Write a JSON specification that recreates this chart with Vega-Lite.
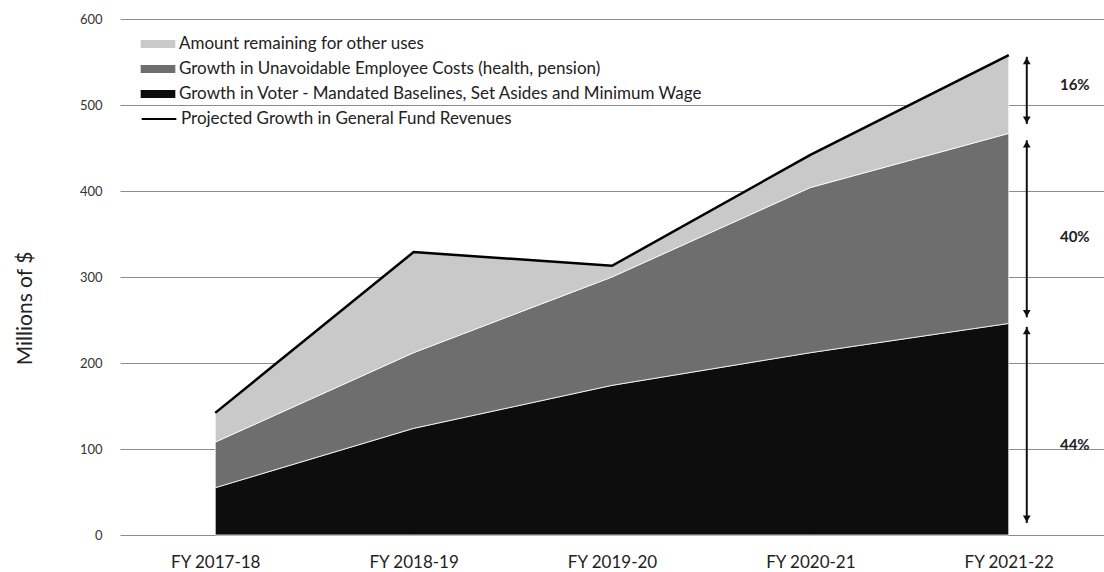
{
  "$schema": "https://vega.github.io/schema/vega-lite/v6.json",
  "autosize": "none",
  "width": 984,
  "height": 516,
  "padding": {"left": 120, "top": 19, "right": 0, "bottom": 37},
  "background": "white",
  "config": {
    "font": "Lato",
    "view": {"stroke": null}
  },
  "datasets": {
    "areas": [
      {"year": "FY 2017-18", "series": "Growth in Voter - Mandated Baselines, Set Asides and Minimum Wage", "ord": 1, "value": 55},
      {"year": "FY 2018-19", "series": "Growth in Voter - Mandated Baselines, Set Asides and Minimum Wage", "ord": 1, "value": 124},
      {"year": "FY 2019-20", "series": "Growth in Voter - Mandated Baselines, Set Asides and Minimum Wage", "ord": 1, "value": 174},
      {"year": "FY 2020-21", "series": "Growth in Voter - Mandated Baselines, Set Asides and Minimum Wage", "ord": 1, "value": 212},
      {"year": "FY 2021-22", "series": "Growth in Voter - Mandated Baselines, Set Asides and Minimum Wage", "ord": 1, "value": 246},
      {"year": "FY 2017-18", "series": "Growth in Unavoidable Employee Costs (health, pension)", "ord": 2, "value": 53},
      {"year": "FY 2018-19", "series": "Growth in Unavoidable Employee Costs (health, pension)", "ord": 2, "value": 88},
      {"year": "FY 2019-20", "series": "Growth in Unavoidable Employee Costs (health, pension)", "ord": 2, "value": 126},
      {"year": "FY 2020-21", "series": "Growth in Unavoidable Employee Costs (health, pension)", "ord": 2, "value": 192},
      {"year": "FY 2021-22", "series": "Growth in Unavoidable Employee Costs (health, pension)", "ord": 2, "value": 221},
      {"year": "FY 2017-18", "series": "Amount remaining for other uses", "ord": 3, "value": 34},
      {"year": "FY 2018-19", "series": "Amount remaining for other uses", "ord": 3, "value": 117},
      {"year": "FY 2019-20", "series": "Amount remaining for other uses", "ord": 3, "value": 13},
      {"year": "FY 2020-21", "series": "Amount remaining for other uses", "ord": 3, "value": 38},
      {"year": "FY 2021-22", "series": "Amount remaining for other uses", "ord": 3, "value": 91}
    ],
    "total": [
      {"year": "FY 2017-18", "series": "Projected Growth in General Fund Revenues", "value": 142},
      {"year": "FY 2018-19", "series": "Projected Growth in General Fund Revenues", "value": 329},
      {"year": "FY 2019-20", "series": "Projected Growth in General Fund Revenues", "value": 313},
      {"year": "FY 2020-21", "series": "Projected Growth in General Fund Revenues", "value": 442},
      {"year": "FY 2021-22", "series": "Projected Growth in General Fund Revenues", "value": 558}
    ],
    "arrows": [
      {"year": "FY 2021-22", "top": 556, "bot": 478, "mid": 523, "label": "16%"},
      {"year": "FY 2021-22", "top": 459, "bot": 253, "mid": 347, "label": "40%"},
      {"year": "FY 2021-22", "top": 242, "bot": 14, "mid": 105, "label": "44%"}
    ]
  },
  "encoding": {
    "x": {
      "field": "year", "type": "ordinal",
      "scale": {"type": "point", "padding": 0.48},
      "axis": {"title": null, "labelAngle": 0, "domain": false, "ticks": false, "grid": false, "labelPadding": 19, "labelFontSize": 17, "labelColor": "#222"}
    }
  },
  "layer": [
    {
      "data": {"name": "areas"},
      "mark": {"type": "area", "stroke": "white", "strokeWidth": 0.8},
      "encoding": {
        "y": {
          "field": "value", "type": "quantitative", "stack": "zero",
          "scale": {"domain": [0, 600]},
          "axis": {"values": [0, 100, 200, 300, 400, 500, 600], "domain": false, "ticks": false, "grid": true, "gridColor": "#8c8c8c", "gridWidth": 1, "labelPadding": 18, "labelFontSize": 13, "labelColor": "#333", "title": "Millions of $", "titleFontSize": 21, "titleFontWeight": "normal", "titleColor": "#222", "titlePadding": 44, "titleY": 289}
        },
        "order": {"field": "ord", "type": "quantitative"},
        "fill": {
          "field": "series", "type": "nominal",
          "scale": {
            "domain": ["Amount remaining for other uses", "Growth in Unavoidable Employee Costs (health, pension)", "Growth in Voter - Mandated Baselines, Set Asides and Minimum Wage"],
            "range": ["#c9c9c9", "#6e6e6e", "#0d0d0d"]
          },
          "legend": {
            "title": null, "orient": "none", "legendX": 29, "legendY": 16,
            "labelFontSize": 17, "labelColor": "#222", "labelLimit": 0, "rowPadding": 8,
            "symbolType": "M-2,-0.45H2V0.45H-2Z", "symbolSize": 300, "symbolStrokeWidth": 0, "labelOffset": 12
          }
        }
      }
    },
    {
      "data": {"name": "total"},
      "mark": {"type": "line", "strokeWidth": 2.5},
      "encoding": {
        "y": {"field": "value", "type": "quantitative"},
        "stroke": {
          "field": "series", "type": "nominal",
          "scale": {"domain": ["Projected Growth in General Fund Revenues"], "range": ["#000000"]},
          "legend": {
            "title": null, "orient": "none", "legendX": 29, "legendY": 90,
            "labelFontSize": 17, "labelColor": "#222", "labelLimit": 0,
            "symbolType": "M-2,0H2", "symbolSize": 300, "symbolStrokeWidth": 2, "labelOffset": 12
          }
        }
      }
    },
    {
      "data": {"name": "arrows"},
      "mark": {"type": "rule", "xOffset": 18, "strokeWidth": 2, "color": "#111"},
      "encoding": {
        "y": {"field": "top", "type": "quantitative"},
        "y2": {"field": "bot"}
      }
    },
    {
      "data": {"name": "arrows"},
      "mark": {"type": "point", "shape": "triangle-up", "filled": true, "color": "#111", "size": 60, "xOffset": 18, "yOffset": 4, "opacity": 1},
      "encoding": {
        "y": {"field": "top", "type": "quantitative"}
      }
    },
    {
      "data": {"name": "arrows"},
      "mark": {"type": "point", "shape": "triangle-down", "filled": true, "color": "#111", "size": 60, "xOffset": 18, "yOffset": -4, "opacity": 1},
      "encoding": {
        "y": {"field": "bot", "type": "quantitative"}
      }
    },
    {
      "data": {"name": "arrows"},
      "mark": {"type": "text", "xOffset": 66, "fontSize": 15, "fontWeight": "bold", "color": "#222"},
      "encoding": {
        "y": {"field": "mid", "type": "quantitative"},
        "text": {"field": "label"}
      }
    }
  ]
}
